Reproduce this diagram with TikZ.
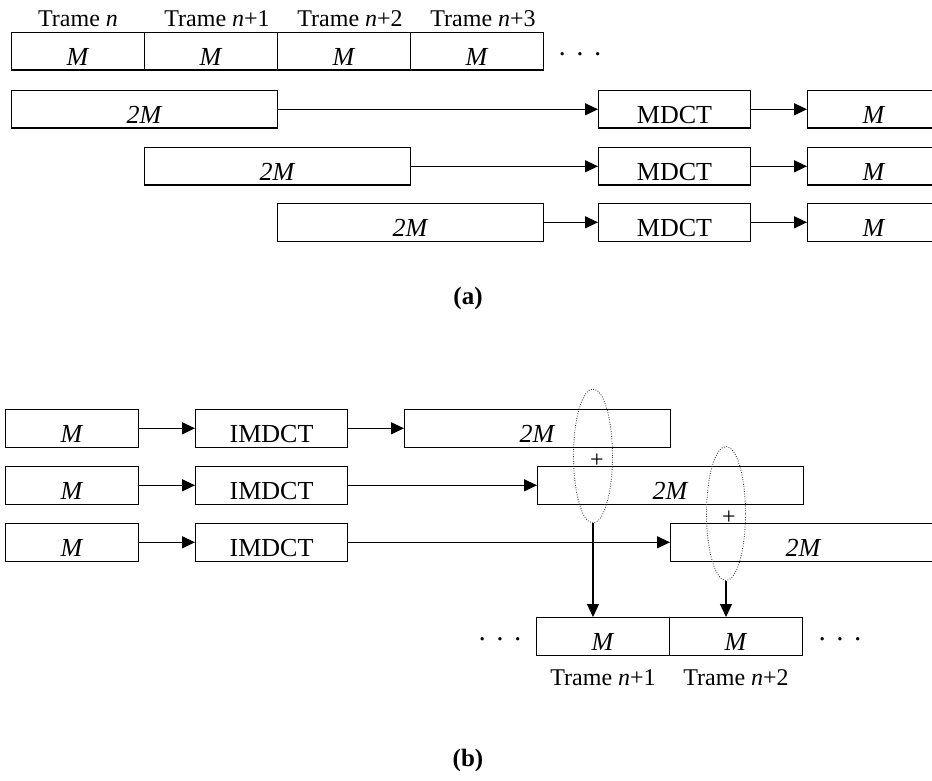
\documentclass[tikz,border=0pt]{standalone}
\usepackage{fontspec}
\setmainfont{Liberation Serif}
\usetikzlibrary{arrows.meta,shapes.geometric,positioning}

\tikzset{
  blk/.style={draw, line width=1.1pt, inner sep=0pt, minimum height=37.5pt,
    text height=29pt, text depth=0.5pt, anchor=north west,
    font=\fontsize{26}{28}\selectfont},
  cell/.style={blk, minimum width=133pt},
  wide/.style={blk, minimum width=266pt},
  xform/.style={blk, minimum width=152pt},
  lbl/.style={font=\fontsize{24}{28}\selectfont, inner sep=0pt, anchor=base},
  flow/.style={-{Triangle[length=13pt,width=12pt]}, line width=1.2pt},
  sumring/.style={ellipse, draw=black!80, line width=0.9pt,
    dash pattern=on 0.8pt off 1.6pt, minimum width=39pt,
    minimum height=134pt, inner sep=0pt},
  dots/.style={font=\fontsize{28}{30}\selectfont, inner sep=0pt}
}

\begin{document}
\begin{tikzpicture}[x=1pt,y=-1pt]
\useasboundingbox (0,0) rectangle (932,781);

% --------------------------------------------------
% (a): analysis, frames -> MDCT
% --------------------------------------------------
\node[cell] (c1) at (11,32)  {\textit{M}};
\node[cell] (c2) at (144,32) {\textit{M}};
\node[cell] (c3) at (277,32) {\textit{M}};
\node[cell] (c4) at (410,32) {\textit{M}};
\node[dots] (d0) at (580,58) {·\hspace{0.3em}·\hspace{0.3em}·};

\node[lbl] (t1) at ([yshift=5pt]c1.north) {Trame \textit{n}};
\node[lbl] (t2) at ([xshift=6pt,yshift=5pt]c2.north) {Trame \textit{n}+1};
\node[lbl] (t3) at ([xshift=6pt,yshift=5pt]c3.north) {Trame \textit{n}+2};
\node[lbl] (t4) at ([xshift=6pt,yshift=5pt]c4.north) {Trame \textit{n}+3};

\node[wide]  (a1) at (11,90)  {\textit{2M}};
\node[xform] (m1) at (598,90) {MDCT};
\node[cell]  (r1) at (807,90) {\textit{M}};
\draw[flow] (a1) -- (m1);
\draw[flow] (m1) -- (r1);

\node[wide]  (a2) at (144,147) {\textit{2M}};
\node[xform] (m2) at (598,147) {MDCT};
\node[cell]  (r2) at (807,147) {\textit{M}};
\draw[flow] (a2) -- (m2);
\draw[flow] (m2) -- (r2);

\node[wide]  (a3) at (277,203) {\textit{2M}};
\node[xform] (m3) at (598,203) {MDCT};
\node[cell]  (r3) at (807,203) {\textit{M}};
\draw[flow] (a3) -- (m3);
\draw[flow] (m3) -- (r3);

\node (capa) at (468,298) {\fontsize{25}{28}\selectfont\bfseries (a)};

% --------------------------------------------------
% (b): synthesis, IMDCT -> overlap-add
% --------------------------------------------------
\node[cell]  (x1) at (5,409)   {\textit{M}};
\node[xform] (i1) at (195,409) {IMDCT};
\node[wide]  (y1) at (404,409) {\textit{2M}};
\draw[flow] (x1) -- (i1);
\draw[flow] (i1) -- (y1);

\node[cell]  (x2) at (5,466)   {\textit{M}};
\node[xform] (i2) at (195,466) {IMDCT};
\node[wide]  (y2) at (537,466) {\textit{2M}};
\draw[flow] (x2) -- (i2);
\draw[flow] (i2) -- (y2);

\node[cell]  (x3) at (5,523)   {\textit{M}};
\node[xform] (i3) at (195,523) {IMDCT};
\node[wide]  (y3) at (670,523) {\textit{2M}};
\draw[flow] (x3) -- (i3);
\draw[flow] (i3) -- (y3);

% overlap regions
\node[sumring] (s1) at (593,456)   {};
\node[sumring] (s2) at (726,513.5) {};
\node[lbl, anchor=center] (p1) at (597,461) {+};
\node[lbl, anchor=center] (p2) at (729,518) {+};

% output frames
\node[cell] (o1) at (536,617) {\textit{M}};
\node[cell] (o2) at (669,617) {\textit{M}};
\draw[flow] (s1.south) -- (s1.south |- o1.north);
\draw[flow] (s2.south) -- (s2.south |- o2.north);
\node[dots] (dl) at (500,643) {·\hspace{0.3em}·\hspace{0.3em}·};
\node[dots] (dr) at (840,643) {·\hspace{0.3em}·\hspace{0.3em}·};

\node[lbl] (b1) at ([yshift=-30pt]o1.south) {Trame \textit{n}+1};
\node[lbl] (b2) at ([yshift=-30pt]o2.south) {Trame \textit{n}+2};

\node (capb) at (468,760) {\fontsize{25}{28}\selectfont\bfseries (b)};

\end{tikzpicture}
\end{document}
